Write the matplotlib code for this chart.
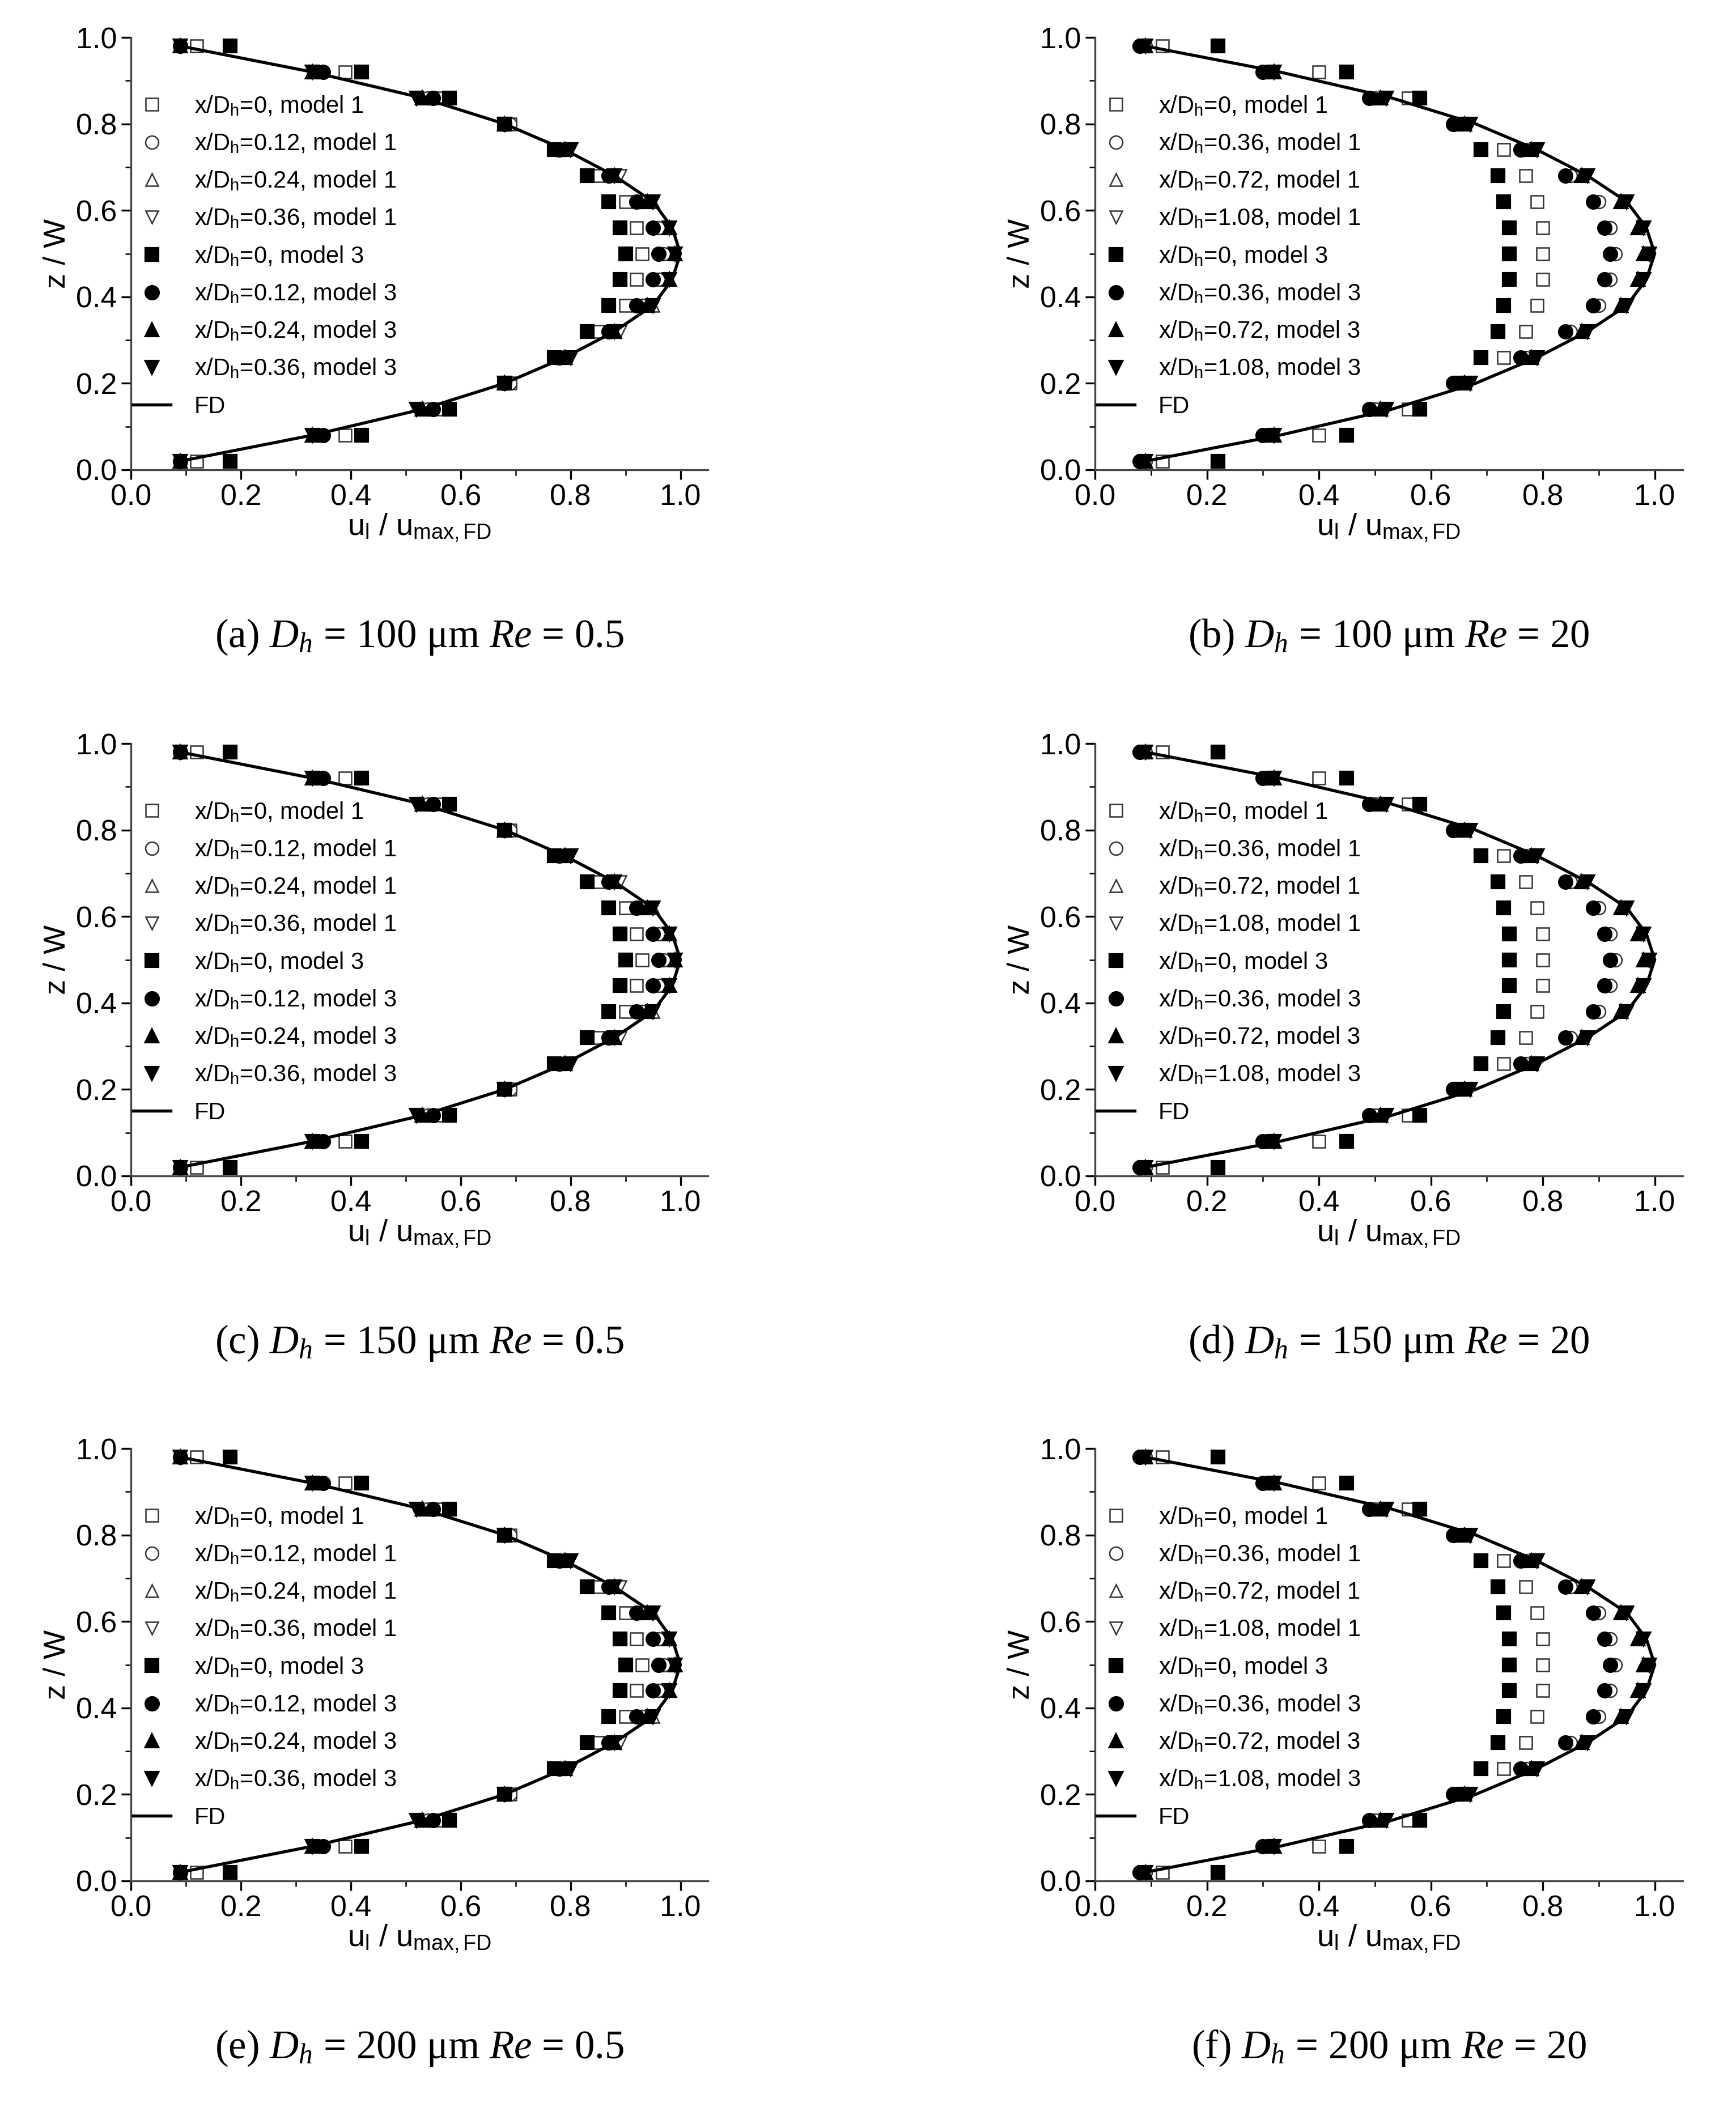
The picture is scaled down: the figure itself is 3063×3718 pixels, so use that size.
import numpy as np
import matplotlib
matplotlib.use('Agg')
import matplotlib.pyplot as plt

plt.rcParams['font.family'] = ['Liberation Sans', 'DejaVu Sans']
plt.rcParams['mathtext.fontset'] = 'custom'
plt.rcParams['mathtext.rm'] = 'Liberation Sans'
plt.rcParams['mathtext.it'] = 'Liberation Serif:italic'

# z/W levels (lower half, mirrored about 0.5)
z_half = [0.02, 0.08, 0.14, 0.20, 0.26, 0.32, 0.38, 0.44, 0.50]

# fully developed profile
fd_half = [0.09, 0.33, 0.53, 0.68, 0.79, 0.88, 0.95, 0.985, 1.0]

# Re = 0.5 series (x/Dh = 0, 0.12, 0.24, 0.36)
re05_m1_0 = [0.12, 0.39, 0.56, 0.69, 0.78, 0.85, 0.90, 0.92, 0.93]
re05_m3_0 = [0.18, 0.42, 0.58, 0.68, 0.77, 0.83, 0.87, 0.89, 0.90]
re05_m1_1 = [0.09, 0.34, 0.54, 0.69, 0.79, 0.87, 0.93, 0.96, 0.97]
re05_m3_1 = [0.09, 0.35, 0.55, 0.68, 0.78, 0.87, 0.92, 0.95, 0.96]
re05_m1_2 = [0.09, 0.33, 0.53, 0.68, 0.79, 0.88, 0.95, 0.98, 0.99]
re05_m3_2 = [0.09, 0.33, 0.53, 0.68, 0.79, 0.88, 0.94, 0.98, 0.99]
re05_m1_3 = [0.09, 0.33, 0.52, 0.68, 0.80, 0.89, 0.95, 0.98, 0.99]
re05_m3_3 = [0.09, 0.33, 0.52, 0.68, 0.80, 0.88, 0.95, 0.98, 0.99]

# Re = 20 series (x/Dh = 0, 0.36, 0.72, 1.08)
re20_m1_0 = [0.12, 0.40, 0.56, 0.66, 0.73, 0.77, 0.79, 0.80, 0.80]
re20_m3_0 = [0.22, 0.45, 0.58, 0.65, 0.69, 0.72, 0.73, 0.74, 0.74]
re20_m1_1 = [0.09, 0.31, 0.50, 0.65, 0.77, 0.85, 0.90, 0.92, 0.93]
re20_m3_1 = [0.08, 0.30, 0.49, 0.64, 0.76, 0.84, 0.89, 0.91, 0.92]
re20_m1_2 = [0.09, 0.32, 0.51, 0.66, 0.78, 0.87, 0.94, 0.97, 0.98]
re20_m3_2 = [0.09, 0.32, 0.51, 0.66, 0.78, 0.87, 0.94, 0.97, 0.98]
re20_m1_3 = [0.09, 0.32, 0.52, 0.67, 0.79, 0.88, 0.95, 0.98, 0.99]
re20_m3_3 = [0.09, 0.32, 0.52, 0.67, 0.79, 0.88, 0.95, 0.98, 0.99]

re05_pos = ['0', '0.12', '0.24', '0.36']
re20_pos = ['0', '0.36', '0.72', '1.08']

captions = ['(a) $D_h$ = 100 μm $Re$ = 0.5', '(b) $D_h$ = 100 μm $Re$ = 20',
            '(c) $D_h$ = 150 μm $Re$ = 0.5', '(d) $D_h$ = 150 μm $Re$ = 20',
            '(e) $D_h$ = 200 μm $Re$ = 0.5', '(f) $D_h$ = 200 μm $Re$ = 20']


def full(h):
    h = list(h)
    return np.array(h + h[-2::-1])


z = np.array(z_half + [1 - v for v in z_half[-2::-1]])

sets = {
    'low': (re05_pos, [re05_m1_0, re05_m1_1, re05_m1_2, re05_m1_3],
            [re05_m3_0, re05_m3_1, re05_m3_2, re05_m3_3]),
    'high': (re20_pos, [re20_m1_0, re20_m1_1, re20_m1_2, re20_m1_3],
             [re20_m3_0, re20_m3_1, re20_m3_2, re20_m3_3]),
}
markers = ['s', 'o', '^', 'v']

fig = plt.figure(figsize=(3063 / 300, 3718 / 300), dpi=300)
W, H = 3063, 3718
lefts = [231, 1932]
widths = [1018, 1037]
tops = [66, 1312, 2556]
height = 763
cap_y = [1124, 2370, 3614]

for r in range(3):
    for c in range(2):
        ax = fig.add_axes([lefts[c] / W, 1 - (tops[r] + height) / H, widths[c] / W, height / H])
        pos, m1, m3 = sets['low' if c == 0 else 'high']
        handles = []
        for i in range(4):
            h, = ax.plot(full(m1[i]), z, ls='none', marker=markers[i], ms=5.5,
                         mfc='white', mec='#333333', mew=0.6,
                         label='x/D$_\\mathrm{h}$=%s, model 1' % pos[i])
            handles.append(h)
        for i in range(4):
            h, = ax.plot(full(m3[i]), z, ls='none', marker=markers[i], ms=5.5,
                         mfc='black', mec='black',
                         label='x/D$_\\mathrm{h}$=%s, model 3' % pos[i])
            handles.append(h)
        h, = ax.plot(full(fd_half), z, color='black', lw=1.3, label='FD')
        handles.append(h)
        ax.set_xlim(0, 1.05)
        ax.set_ylim(0, 1.0)
        ax.set_xticks(np.arange(0, 1.01, 0.2))
        ax.set_yticks(np.arange(0, 1.01, 0.2))
        ax.set_xticks(np.arange(0, 1.01, 0.1), minor=True)
        ax.set_yticks(np.arange(0, 1.01, 0.1), minor=True)
        ax.tick_params(direction='out', labelsize=12.5, width=0.8, length=4, pad=2)
        ax.tick_params(which='minor', direction='out', width=0.6, length=2.5)
        ax.spines['top'].set_visible(False)
        ax.spines['right'].set_visible(False)
        for s in ['left', 'bottom']:
            ax.spines[s].set_color('#444444')
        ax.set_xlabel('u$_\\mathrm{l}$ / u$_\\mathrm{max,FD}$', fontsize=13, labelpad=0)
        ax.set_ylabel('z / W', fontsize=13, labelpad=2)
        ax.legend(handles=handles, loc='upper left', bbox_to_anchor=(-0.025, 0.905),
                  frameon=False, fontsize=10, handlelength=1.6, handletextpad=1.0,
                  labelspacing=0.62, borderpad=0.2)
        fig.text((lefts[c] + widths[c] / 2) / W, 1 - cap_y[r] / H, captions[r * 2 + c],
                 ha='center', va='center', fontsize=17, family='Liberation Serif')

fig.savefig('out.png', dpi=300)
